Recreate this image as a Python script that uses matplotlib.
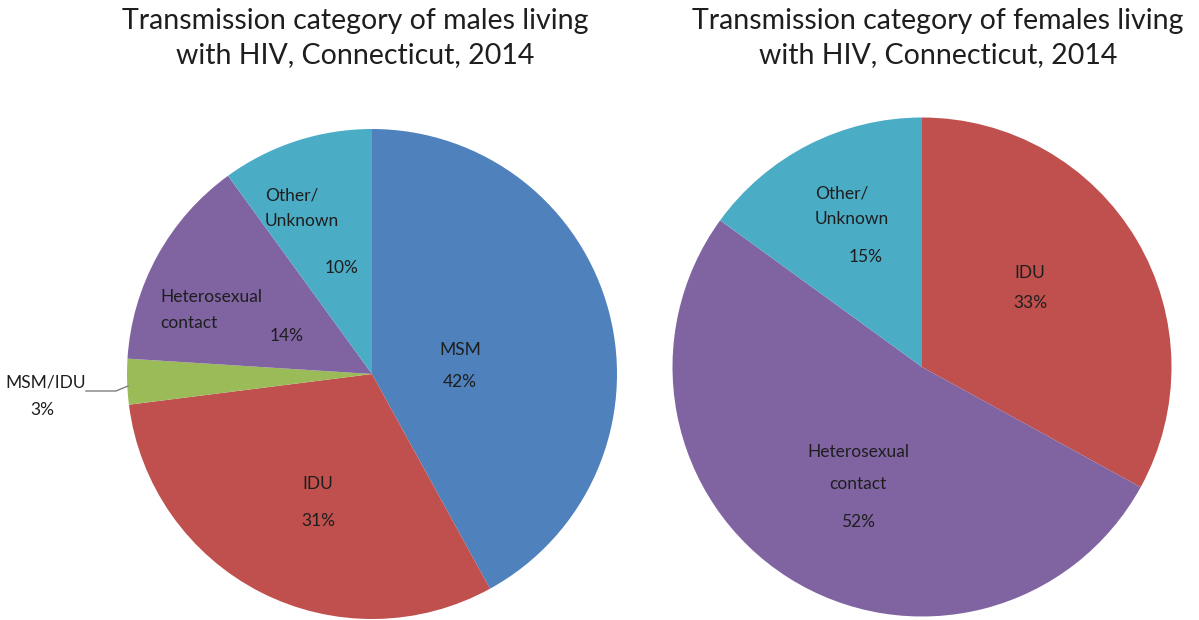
import matplotlib
matplotlib.use("Agg")
import matplotlib.pyplot as plt

# ---- data ----
male_categories = ["MSM", "IDU", "MSM/IDU", "Heterosexual contact", "Other/ Unknown"]
male_values = [42, 31, 3, 14, 10]
female_categories = ["IDU", "Heterosexual contact", "Other/ Unknown"]
female_values = [33, 52, 15]
male_title = "Transmission category of males living\nwith HIV, Connecticut, 2014"
female_title = "Transmission category of females living\nwith HIV, Connecticut, 2014"

# ---- styles ----
colors = {"MSM": "#4F81BD", "IDU": "#C0504D", "MSM/IDU": "#9BBB59",
          "Heterosexual contact": "#8064A2", "Other/ Unknown": "#4BACC6"}
W, H = 1199, 620
plt.rcParams['font.family'] = ['Lato', 'DejaVu Sans']
txt = '#1e1e1e'

fig = plt.figure(figsize=(W / 100, H / 100), dpi=100)
ax = fig.add_axes([0, 0, 1, 1])

def Y(py):
    return H - py

ax.pie(male_values, colors=[colors[c] for c in male_categories], startangle=90,
       counterclock=False, center=(372, Y(374)), radius=245,
       wedgeprops=dict(linewidth=0))
ax.pie(female_values, colors=[colors[c] for c in female_categories], startangle=90,
       counterclock=False, center=(922, Y(367)), radius=249.5,
       wedgeprops=dict(linewidth=0))

ax.set_xlim(0, W)
ax.set_ylim(0, H)
ax.set_aspect('equal')
ax.axis('off')

lfs = 12.5
def t(x, y, s, ha='center', **kw):
    ax.text(x, Y(y), s, ha=ha, va='center', fontsize=lfs, color=txt,
            linespacing=1.75, **kw)

# male labels
t(460, 350, "MSM"); t(460, 382, f"{male_values[0]}%")
t(318, 484, "IDU"); t(318, 521, f"{male_values[1]}%")
t(46, 383, "MSM/IDU"); t(42, 410, f"{male_values[2]}%")
t(160, 310, "Heterosexual\ncontact", ha='left', multialignment='left')
t(287, 336, f"{male_values[3]}%")
t(302, 208, "Other/\nUnknown", multialignment='left')
t(342, 268, f"{male_values[4]}%")
ax.plot([86, 116, 128], [Y(391), Y(391), Y(386)], color='#7f7f7f', lw=1)

# female labels
t(1030, 273, "IDU"); t(1030, 303, f"{female_values[0]}%")
t(858, 452, "Heterosexual"); t(858, 484, "contact"); t(858, 522, f"{female_values[1]}%")
t(852, 206, "Other/\nUnknown", multialignment='left')
t(866, 257, f"{female_values[2]}%")

# titles
ax.text(355, Y(38), male_title, ha='center', va='center', fontsize=20.5,
        color=txt, linespacing=1.35)
ax.text(938, Y(38), female_title, ha='center', va='center', fontsize=20.5,
        color=txt, linespacing=1.35)

fig.savefig("out.png", dpi=100)
